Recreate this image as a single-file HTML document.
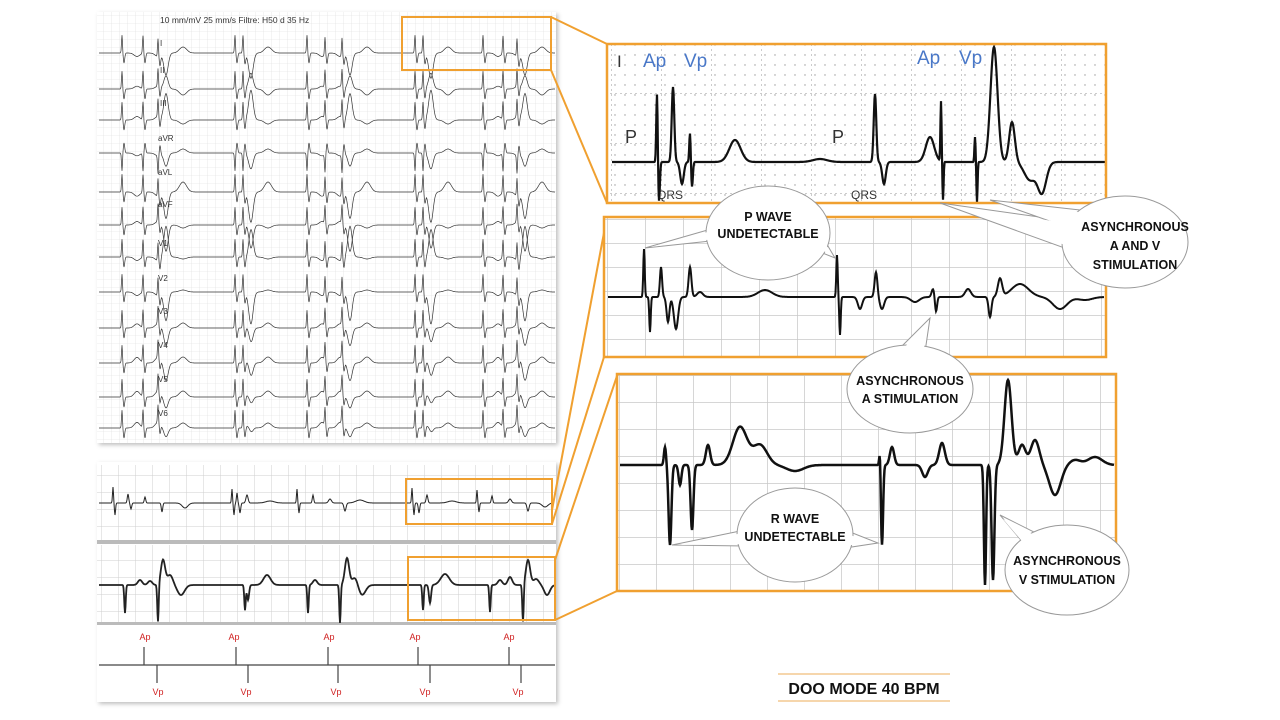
<!DOCTYPE html>
<html><head><meta charset="utf-8">
<style>
html,body{margin:0;padding:0;background:#fff;width:1280px;height:720px;overflow:hidden}
svg{display:block}
text{font-family:"Liberation Sans",sans-serif}
.cl{font-weight:bold;font-size:12.5px;fill:#111;text-anchor:middle}
</style></head>
<body>
<svg id="s" width="1280" height="720" viewBox="0 0 1280 720" xmlns="http://www.w3.org/2000/svg">
<defs>
<pattern id="gL" width="8" height="8" patternUnits="userSpaceOnUse"><path d="M8 0V8H0" fill="none" stroke="#dcdcdc" stroke-width="0.6"/></pattern>
<pattern id="gS" width="17" height="17" patternUnits="userSpaceOnUse"><path d="M17 0V17H0" fill="none" stroke="#cfcfcf" stroke-width="1"/></pattern>
<pattern id="gD" width="10" height="10" patternUnits="userSpaceOnUse"><circle cx="5" cy="5" r="0.7" fill="#999"/></pattern>
<pattern id="gD2" width="50" height="50" patternUnits="userSpaceOnUse" x="612" y="44"><path d="M50 0V50H0" fill="none" stroke="#999" stroke-width="1" stroke-dasharray="2 3"/></pattern>
<pattern id="g2" width="38" height="24" patternUnits="userSpaceOnUse" x="608" y="220"><path d="M38 0V24H0" fill="none" stroke="#c8c8c8" stroke-width="1.5"/></pattern>
<pattern id="g3" width="37" height="27" patternUnits="userSpaceOnUse" x="620" y="376"><path d="M37 0V27H0" fill="none" stroke="#c8c8c8" stroke-width="1.5"/></pattern>
<filter id="sh" x="-5%" y="-5%" width="110%" height="110%"><feDropShadow dx="2" dy="2" stdDeviation="2" flood-color="#000" flood-opacity="0.25"/></filter>
</defs>

<rect x="97" y="12" width="459" height="431" fill="#fff" filter="url(#sh)"/>
<rect x="97" y="12" width="459" height="431" fill="url(#gL)"/>
<text x="160" y="23" font-family="Liberation Mono" font-size="8.5" fill="#333">10 mm/mV 25 mm/s Filtre: H50 d 35 Hz</text>
<g font-family="Liberation Mono" font-size="8" fill="#333">
<text x="160" y="46">I</text><text x="160" y="73">II</text><text x="160" y="106">III</text><text x="158" y="141">aVR</text><text x="158" y="175">aVL</text><text x="158" y="207">aVF</text><text x="158" y="246">V1</text><text x="158" y="281">V2</text><text x="158" y="314">V3</text><text x="158" y="348">V4</text><text x="158" y="382">V5</text><text x="158" y="416">V6</text>
</g>
<g id="leads" fill="none" stroke="#333" stroke-width="0.7"></g>
<rect x="402" y="17" width="149" height="53" fill="none" stroke="#f0a030" stroke-width="2"/>

<rect x="97" y="462" width="459" height="240" fill="#fff" filter="url(#sh)"/>
<rect x="97" y="465" width="459" height="75" fill="url(#gS)"/>
<rect x="97" y="540" width="459" height="4" fill="#bbb"/>
<rect x="97" y="545" width="459" height="77" fill="url(#gS)"/>
<rect x="97" y="622" width="459" height="3" fill="#bbb"/>
<g id="strips" fill="none" stroke="#222"></g>
<rect x="406" y="479" width="146" height="45" fill="none" stroke="#f0a030" stroke-width="2"/>
<rect x="408" y="557" width="147" height="63" fill="none" stroke="#f0a030" stroke-width="2"/>
<line x1="99" y1="665" x2="555" y2="665" stroke="#444" stroke-width="1.2"/>
<g stroke="#444" stroke-width="1.2">
<line x1="144" y1="647" x2="144" y2="665"/><line x1="236" y1="647" x2="236" y2="665"/><line x1="328" y1="647" x2="328" y2="665"/><line x1="418" y1="647" x2="418" y2="665"/><line x1="509" y1="647" x2="509" y2="665"/>
<line x1="157" y1="665" x2="157" y2="683"/><line x1="248" y1="665" x2="248" y2="683"/><line x1="338" y1="665" x2="338" y2="683"/><line x1="430" y1="665" x2="430" y2="683"/><line x1="521" y1="665" x2="521" y2="683"/>
</g>
<g font-size="9" fill="#d02020" text-anchor="middle">
<text x="145" y="640">Ap</text><text x="234" y="640">Ap</text><text x="329" y="640">Ap</text><text x="415" y="640">Ap</text><text x="509" y="640">Ap</text>
<text x="158" y="695">Vp</text><text x="246" y="695">Vp</text><text x="336" y="695">Vp</text><text x="425" y="695">Vp</text><text x="518" y="695">Vp</text>
</g>

<g stroke="#f0a030" stroke-width="2">
<line x1="551" y1="17" x2="607" y2="44"/><line x1="551" y1="70" x2="607" y2="203"/>
<line x1="552" y1="510" x2="606" y2="222"/><line x1="552" y1="524" x2="604" y2="357"/>
<line x1="555" y1="560" x2="617" y2="376"/><line x1="555" y1="620" x2="617" y2="591"/>
</g>

<rect x="607" y="44" width="499" height="159" fill="#fff"/>
<rect x="607" y="44" width="499" height="159" fill="url(#gD)"/>
<rect x="607" y="44" width="499" height="159" fill="url(#gD2)"/>
<text x="617" y="67" font-size="17" fill="#333">I</text>
<g font-size="19" fill="#4a78c8"><text x="643" y="67">Ap</text><text x="684" y="67">Vp</text><text x="917" y="64">Ap</text><text x="959" y="64">Vp</text></g>
<g font-size="18" fill="#333"><text x="625" y="143">P</text><text x="832" y="143">P</text></g>
<g font-size="12" fill="#333"><text x="657" y="199">QRS</text><text x="851" y="199">QRS</text></g>
<path id="p1" fill="none" stroke="#111" stroke-width="2.2"/>
<rect x="607" y="44" width="499" height="159" fill="none" stroke="#f0a030" stroke-width="2.5"/>

<rect x="604" y="217" width="502" height="140" fill="#fff"/>
<rect x="604" y="217" width="502" height="140" fill="url(#g2)"/>
<path id="p2" fill="none" stroke="#111" stroke-width="2"/>
<rect x="604" y="217" width="502" height="140" fill="none" stroke="#f0a030" stroke-width="2.5"/>

<rect x="617" y="374" width="499" height="217" fill="#fff"/>
<rect x="617" y="374" width="499" height="217" fill="url(#g3)"/>
<path id="p3" fill="none" stroke="#111" stroke-width="2.5"/>
<rect x="617" y="374" width="499" height="217" fill="none" stroke="#f0a030" stroke-width="2.5"/>

<g fill="#fff" stroke="#999" stroke-width="1">
<path d="M720 240 L645 248 L725 225 Z"/><path d="M815 250 L835 258 L822 236 Z"/>
<ellipse cx="768" cy="233" rx="62" ry="47"/>
<path d="M1075 222 L940 203 L1070 250 Z" fill="#fff"/><path d="M1080 210 L990 200 L1075 230 Z"/>
<ellipse cx="1125" cy="242" rx="63" ry="46"/>
<path d="M900 348 L930 318 L925 352 Z"/>
<ellipse cx="910" cy="389" rx="63" ry="44"/>
<path d="M745 530 L672 545 L745 546 Z"/><path d="M845 530 L878 543 L845 548 Z"/>
<ellipse cx="795" cy="535" rx="58" ry="47"/>
<path d="M1025 545 L1000 515 L1040 535 Z"/>
<ellipse cx="1067" cy="570" rx="62" ry="45"/>
</g>
<g fill="#fff" stroke="none">
<path d="M722 238 L650 247 L727 227 Z"/><path d="M817 248 L832 255 L822 238 Z"/>
<path d="M1072 224 L948 205 L1068 246 Z"/><path d="M1078 212 L1000 202 L1072 228 Z"/>
<path d="M902 350 L928 322 L923 354 Z"/>
<path d="M748 532 L680 545 L748 544 Z"/><path d="M842 532 L872 543 L842 546 Z"/>
<path d="M1027 547 L1003 519 L1038 537 Z"/>
</g>
<text class="cl" x="768" y="221">P WAVE</text><text class="cl" x="768" y="238">UNDETECTABLE</text>
<text class="cl" x="1135" y="231">ASYNCHRONOUS</text><text class="cl" x="1135" y="250">A AND V</text><text class="cl" x="1135" y="269">STIMULATION</text>
<text class="cl" x="910" y="385">ASYNCHRONOUS</text><text class="cl" x="910" y="403">A STIMULATION</text>
<text class="cl" x="795" y="523">R WAVE</text><text class="cl" x="795" y="541">UNDETECTABLE</text>
<text class="cl" x="1067" y="565">ASYNCHRONOUS</text><text class="cl" x="1067" y="584">V STIMULATION</text>

<line x1="778" y1="674" x2="950" y2="674" stroke="#f3c890" stroke-width="1.5"/>
<line x1="778" y1="701" x2="950" y2="701" stroke="#f3c890" stroke-width="1.5"/>
<text x="864" y="694" font-size="16" font-weight="bold" text-anchor="middle" fill="#111">DOO MODE 40 BPM</text>
</svg>
<script>
function tr(x0,x1,base,comps,step){
  step=step||0.5;var d="";
  for(var x=x0;x<=x1;x+=step){var y=base;
    for(var i=0;i<comps.length;i++){var c=comps[i];var t=(x-c[0])/c[2];y+=c[1]*Math.exp(-t*t);}
    d+=(d?"L":"M")+x.toFixed(1)+" "+y.toFixed(1);}
  return d;}
function P(id,d){document.getElementById(id).setAttribute("d",d);}
P("p1",tr(612,1105,162,[[657,-70,1],[659,40,1.2],[673,-75,1.8],[682,22,2.5],[690,-30,1],[692,25,1.2],[735,-22,8],[820,-3,10],[875,-68,1.8],[884,22,2.5],[930,-25,6],[941,-60,0.8],[943,38,0.8],[977,40,0.8],[975,-25,0.8],[994,-115,5],[1012,-40,4],[1030,18,8],[1042,30,6]],0.5));
P("p2",tr(608,1104,297,[[644,-48,1],[650,35,1],[661,-30,1.5],[668,25,2],[676,32,3],[690,-30,2],[700,-5,4],[765,-7,10],[837,-42,1],[840,38,1],[860,12,3],[876,-25,2],[882,12,3],[915,5,6],[933,-8,2],[936,15,1.5],[968,-8,4],[990,20,2],[1000,-18,3],[1020,-13,12],[1060,12,10],[1085,3,10]],0.5));
P("p3",tr(620,1114,465,[[665,-18,1.5],[670,80,2],[680,20,2],[692,65,2],[708,-20,3],[740,-38,10],[760,-20,10],[795,6,12],[880,-18,1],[882,80,1.5],[892,-18,3],[925,12,4],[942,-22,4],[985,120,1.5],[993,115,2],[1008,-85,5],[1022,-20,5],[1035,-25,6],[1055,30,8],[1075,-5,8],[1095,-8,10]],0.5));
var bases=[53,89,120,153,192,225,257,292,328,363,397,428];
var shapes=[
 [1,-0.5,-1,0.6],[1,0.4,0.6,-0.6],[1,0.5,1.2,-0.4],[-1,-0.4,-0.6,0.4],[1,-0.6,-1.2,1],[1,0.5,-1.2,-0.3],
 [1,-0.5,1.4,-0.2],[1,-0.5,-1.3,0.2],[1,0.6,-0.8,0.5],[1,0.8,-0.8,0.6],[1,0.8,-0.5,0.6],[1,0.8,-0.4,0.5]];
var beats=[[122,143,158],[235,243],[307,325,342],[415,423],[483,503,517]];
var g=document.getElementById("leads"),h="";
for(var i=0;i<12;i++){var s=shapes[i],c=[];
  for(var b=0;b<beats.length;b++){var bb=beats[b];
    for(var k=0;k<bb.length;k++){var x=bb[k];
      c.push([x,-18*s[0],0.7]);c.push([x+2,10*s[0],1]);
      if(k==bb.length-1){c.push([x+8,-22*s[2],3]);c.push([x+25,-10*s[3],5]);}
      else c.push([x+15,-7*s[1],4]);}
  }
  h+='<path d="'+tr(99,555,bases[i],c,0.5)+'"/>';}
g.innerHTML=h;
var st=document.getElementById("strips");
st.innerHTML='<path stroke-width="1" d="'+tr(99,552,503,[[113,-16,0.7],[115,12,0.8],[128,-9,1],[131,6,1],[145,-6,1],[162,9,1],[185,5,4],[232,-14,0.7],[234,12,0.8],[237,-10,0.8],[240,10,1],[247,-8,1.5],[270,-2,6],[297,-14,0.7],[299,10,0.8],[313,-8,1],[330,-4,2],[345,8,1.5],[360,-3,6],[412,-15,0.7],[414,12,0.8],[419,10,1],[427,-8,1.2],[452,-2,6],[477,-13,0.7],[479,9,0.8],[492,-7,1],[510,-4,2],[528,8,1.5],[545,4,4]],0.5)+'"/>'+
'<path stroke-width="1.8" d="'+tr(99,554,585,[[125,28,1],[140,-5,3],[150,-4,3],[158,38,1],[163,-25,3],[170,-10,4],[181,10,5],[245,25,1],[248,15,1.5],[267,-10,5],[308,28,1],[315,-5,3],[340,38,1],[347,-27,3],[355,-8,4],[362,10,5],[423,25,1],[430,18,1.5],[445,-11,6],[490,27,1],[500,-5,3],[510,-8,3],[523,38,1],[528,-25,3],[536,-6,4],[547,10,4]],0.5)+'"/>';
</script>
</body></html>
